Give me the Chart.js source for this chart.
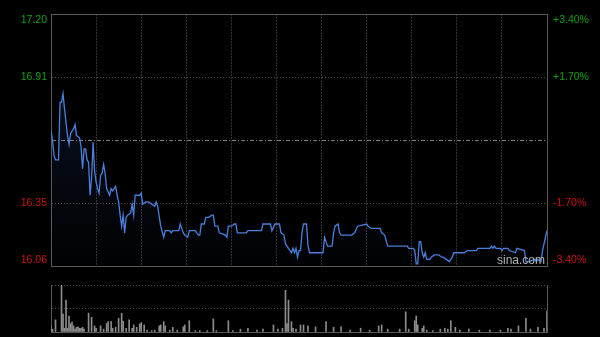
<!DOCTYPE html>
<html>
<head>
<meta charset="utf-8">
<script src="https://cdn.jsdelivr.net/npm/chart.js@4/dist/chart.umd.min.js"></script>
<style>
  html, body { margin: 0; padding: 0; background: #000; }
  #wrap { position: relative; width: 600px; height: 337px; overflow: hidden; background: #000; }
  #price { position: absolute; left: 0; top: 0; }
  #volume { position: absolute; left: 0; top: 280px; }
  #logo { position: absolute; left: 497px; top: 253px; font: 12px Arial, "Liberation Sans", sans-serif; color: #b0b0b0; }
</style>
</head>
<body>
<div id="wrap">
  <canvas id="price" width="600" height="280"></canvas>
  <canvas id="volume" width="600" height="57"></canvas>
  <div id="logo">sina.com</div>
</div>
<script>
// intraday, minutes after the open (0 .. 330)
const minutes = [
  0, 1, 2, 3, 5, 6, 7, 8, 9, 11, 12, 13, 15, 16, 17, 19, 20, 21, 22, 23,
  24, 25, 26, 27, 28, 29, 30, 31, 32, 33, 34, 35, 36, 37, 39, 40, 41, 42, 43, 44,
  45, 46, 47, 48, 49, 50, 51, 53, 54, 55, 56, 59, 60, 61, 63, 65, 67, 69, 70, 71,
  73, 75, 76, 79, 80, 81, 85, 86, 88, 89, 91, 92, 96, 98, 99, 100, 102, 103, 105, 107,
  108, 109, 111, 112, 116, 117, 118, 120, 122, 123, 124, 130, 131, 140, 141, 146, 147, 149, 152, 153,
  155, 156, 157, 159, 160, 161, 162, 163, 164, 165, 166, 167, 168, 170, 171, 172, 180, 181, 182, 184,
  187, 188, 189, 191, 192, 193, 200, 202, 204, 210, 211, 213, 219, 220, 222, 224, 226, 237, 238, 241,
  242, 243, 244, 245, 246, 247, 248, 249, 250, 252, 253, 255, 258, 260, 261, 263, 265, 267, 268, 275,
  277, 283, 284, 292, 293, 294, 295, 296, 299, 300, 301, 304, 305, 309, 310, 315, 316, 318, 322, 323,
  324, 326, 327, 329, 330
];
const prices = [
  16.67, 16.63, 16.56, 16.54, 16.54, 16.80, 16.80, 16.84, 16.77, 16.65, 16.61, 16.66, 16.68, 16.70, 16.65, 16.64, 16.60, 16.50, 16.59, 16.59,
  16.54, 16.53, 16.38, 16.46, 16.62, 16.49, 16.44, 16.41, 16.39, 16.47, 16.48, 16.52, 16.48, 16.41, 16.38, 16.41, 16.40, 16.41, 16.42, 16.38,
  16.35, 16.29, 16.24, 16.29, 16.21, 16.28, 16.29, 16.30, 16.34, 16.29, 16.38, 16.38, 16.39, 16.34, 16.35, 16.35, 16.34, 16.33, 16.35, 16.33,
  16.24, 16.19, 16.22, 16.22, 16.21, 16.22, 16.22, 16.25, 16.21, 16.20, 16.19, 16.22, 16.22, 16.20, 16.20, 16.25, 16.25, 16.28, 16.28, 16.29,
  16.29, 16.24, 16.24, 16.21, 16.20, 16.19, 16.24, 16.24, 16.25, 16.25, 16.21, 16.21, 16.22, 16.22, 16.25, 16.25, 16.22, 16.25, 16.25, 16.21,
  16.20, 16.16, 16.15, 16.13, 16.12, 16.14, 16.12, 16.14, 16.10, 16.13, 16.13, 16.21, 16.25, 16.25, 16.15, 16.12, 16.12, 16.12, 16.19, 16.15,
  16.15, 16.21, 16.24, 16.25, 16.21, 16.20, 16.20, 16.21, 16.24, 16.25, 16.24, 16.23, 16.23, 16.21, 16.20, 16.15, 16.15, 16.15, 16.14, 16.14,
  16.13, 16.07, 16.07, 16.17, 16.17, 16.12, 16.10, 16.12, 16.09, 16.09, 16.10, 16.11, 16.11, 16.10, 16.10, 16.09, 16.08, 16.10, 16.12, 16.12,
  16.13, 16.13, 16.14, 16.14, 16.15, 16.14, 16.15, 16.14, 16.14, 16.13, 16.14, 16.14, 16.13, 16.12, 16.14, 16.13, 16.08, 16.08, 16.09, 16.08,
  16.09, 16.08, 16.13, 16.19, 16.22
];
const prevClose = 16.63;
const priceTicks = [16.06, 16.345, 16.63, 16.915, 17.20];
const leftLabels = ["16.06", "16.35", "", "16.91", "17.20"];
const rightLabels = ["-3.40%", "-1.70%", "", "+1.70%", "+3.40%"];

// volume, relative to the session peak (= 100)
const volMinutes = [
  0, 1, 3, 7, 8, 9, 10, 11, 12, 13, 14, 15, 16, 17, 18, 19, 20, 21, 22, 25,
  27, 29, 30, 33, 35, 37, 38, 40, 41, 43, 45, 47, 48, 50, 52, 54, 55, 57, 59, 60,
  62, 64, 67, 69, 72, 73, 75, 76, 79, 81, 84, 88, 89, 92, 96, 99, 104, 108, 110, 118,
  121, 126, 131, 137, 141, 148, 151, 154, 156, 157, 158, 160, 161, 163, 166, 168, 171, 176, 183, 188,
  193, 199, 206, 212, 218, 220, 224, 232, 236, 238, 242, 243, 244, 247, 248, 250, 254, 259, 262, 264,
  266, 269, 272, 278, 285, 292, 299, 304, 306, 311, 316, 319, 324, 328, 330
];
const volumes = [
  11, 6, 26, 100, 38, 8, 68, 8, 34, 18, 21, 13, 6, 10, 11, 8, 8, 10, 6, 40,
  31, 13, 8, 13, 6, 18, 22, 22, 8, 10, 29, 40, 23, 8, 26, 8, 15, 10, 17, 20,
  15, 4, 3, 4, 13, 15, 22, 13, 4, 10, 4, 11, 15, 24, 3, 3, 3, 28, 3, 24,
  3, 6, 8, 4, 6, 15, 6, 8, 89, 18, 68, 22, 8, 6, 15, 15, 13, 11, 22, 10,
  11, 4, 8, 4, 13, 15, 6, 6, 43, 6, 24, 34, 15, 8, 13, 4, 3, 6, 8, 6,
  24, 10, 4, 6, 4, 4, 4, 8, 6, 13, 29, 6, 10, 8, 45
];

const FRAME = "#5a5a5a";
const DOTS = "#505050";
const VGRID = "#333333";
const FONT = { family: 'Arial, "Liberation Sans", sans-serif', size: 10.5, lineHeight: "12px" };

const upDown = (i) => (i > 2 ? "#12a012" : "#d01414");
// first / last label pushed inside the frame (second blank line)
const shiftLabel = (txt, i) => (i === 0 ? [txt, ""] : i === priceTicks.length - 1 ? ["", txt] : txt);
// keep the plot frame where the layout padding puts it
const noLabelPad = (s) => { s.paddingTop = 0; s.paddingBottom = 0; };

const priceChart = new Chart(document.getElementById("price"), {
  type: "line",
  data: {
    datasets: [
      {
        data: minutes.map((m, i) => ({ x: m, y: prices[i] })),
        borderColor: "#4a80dc",
        borderWidth: 1.3,
        pointRadius: 0,
        tension: 0,
        fill: "start",
        backgroundColor: (ctx) => {
          const area = ctx.chart.chartArea;
          if (!area) return "transparent";
          const g = ctx.chart.ctx.createLinearGradient(0, area.top, 0, area.bottom);
          g.addColorStop(0, "rgba(50, 90, 170, 0.22)");
          g.addColorStop(1, "rgba(50, 90, 170, 0.02)");
          return g;
        },
      },
    ],
  },
  options: {
    responsive: false,
    animation: false,
    events: [],
    layout: { padding: { top: 14, bottom: 14, left: 0, right: 0 } },
    plugins: { legend: { display: false }, tooltip: { enabled: false } },
    scales: {
      x: {
        type: "linear",
        min: 0,
        max: 330,
        ticks: { display: false, stepSize: 30 },
        grid: {
          drawTicks: false,
          color: (ctx) => (ctx.tick && (ctx.tick.value === 0 || ctx.tick.value === 330) ? FRAME : VGRID),
        },
        border: {
          display: false,
          dash: (ctx) => (ctx.tick && ctx.tick.value !== 0 && ctx.tick.value !== 330 ? [2, 1] : []),
        },
        afterFit: (s) => { s.height = 0; },
      },
      y: {
        position: "left",
        min: priceTicks[0],
        max: priceTicks[priceTicks.length - 1],
        afterBuildTicks: (s) => { s.ticks = priceTicks.map((v) => ({ value: v })); },
        afterFit: (s) => { s.width = 51; noLabelPad(s); },
        ticks: {
          padding: 4,
          font: FONT,
          color: (ctx) => upDown(ctx.index),
          callback: (v, i) => shiftLabel(leftLabels[i], i),
        },
        grid: {
          drawTicks: false,
          color: (ctx) => {
            const i = ctx.index;
            if (i === 0 || i === priceTicks.length - 1) return FRAME;
            return i === 2 ? "#808080" : DOTS;
          },
        },
        border: {
          color: FRAME,
          dash: (ctx) => {
            if (!ctx.tick) return [];
            const i = ctx.index;
            if (i === 0 || i === priceTicks.length - 1) return [];
            return i === 2 ? [4, 2, 1, 2] : [1, 2];
          },
        },
      },
      y2: {
        position: "right",
        min: priceTicks[0],
        max: priceTicks[priceTicks.length - 1],
        afterBuildTicks: (s) => { s.ticks = priceTicks.map((v) => ({ value: v })); },
        afterFit: (s) => { s.width = 53; noLabelPad(s); },
        ticks: {
          padding: 6,
          font: FONT,
          color: (ctx) => upDown(ctx.index),
          callback: (v, i) => shiftLabel(rightLabels[i], i),
        },
        grid: { drawOnChartArea: false, drawTicks: false },
        border: { color: FRAME },
      },
    },
  },
});

const volumeChart = new Chart(document.getElementById("volume"), {
  type: "bar",
  data: {
    datasets: [
      {
        data: volMinutes.map((m, i) => ({ x: m, y: volumes[i] })),
        backgroundColor: "#8c8c8c",
        barThickness: 1,
      },
    ],
  },
  options: {
    responsive: false,
    animation: false,
    events: [],
    layout: { padding: { top: 5, bottom: 5, left: 0, right: 0 } },
    plugins: { legend: { display: false }, tooltip: { enabled: false } },
    scales: {
      x: {
        type: "linear",
        min: 0,
        max: 330,
        offset: false,
        ticks: { display: false },
        grid: { display: false, offset: false },
        border: { display: false },
        afterFit: (s) => { s.height = 0; },
      },
      y: {
        min: 0,
        max: 100,
        afterBuildTicks: (s) => { s.ticks = [0, 50, 100].map((v) => ({ value: v })); },
        afterFit: (s) => { s.width = 51; noLabelPad(s); },
        ticks: { display: false },
        grid: { drawTicks: false, color: (ctx) => (ctx.index === 0 ? FRAME : DOTS) },
        border: { color: FRAME, dash: (ctx) => (ctx.tick && ctx.index > 0 ? [1, 2] : []) },
      },
      y2: {
        position: "right",
        min: 0,
        max: 100,
        afterFit: (s) => { s.width = 53; noLabelPad(s); },
        ticks: { display: false },
        grid: { drawOnChartArea: false, drawTicks: false },
        border: { color: FRAME },
      },
    },
  },
});
</script>
</body>
</html>
